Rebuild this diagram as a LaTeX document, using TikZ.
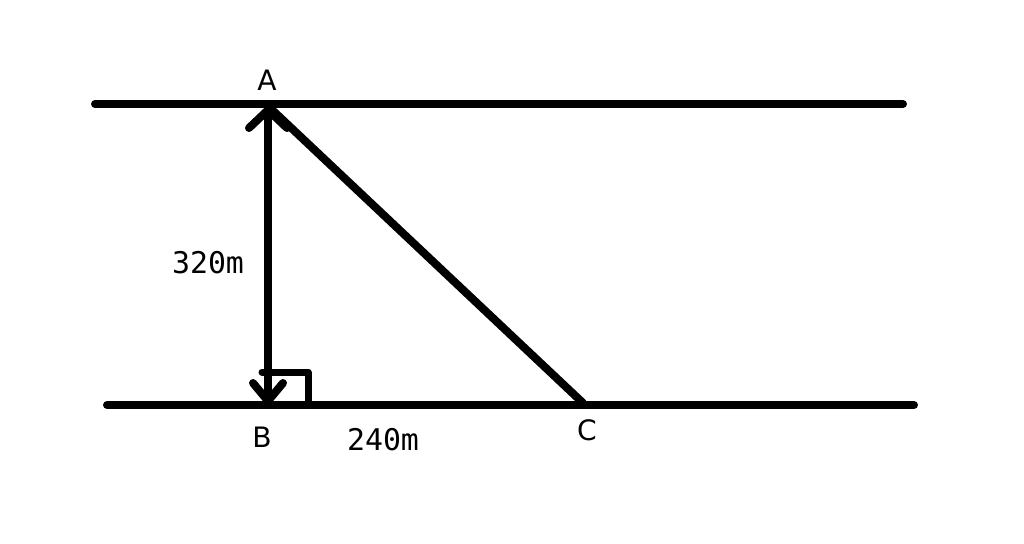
\documentclass[tikz,border=0pt]{standalone}
\usepackage{fontspec}
\setmainfont{DejaVu Sans}
\setmonofont{DejaVu Sans Mono}
\usetikzlibrary{arrows.meta}
\begin{document}
\begin{tikzpicture}[
		x=0.02cm, y=-0.02cm,
		every node/.style={inner sep=0pt},
		bank/.style={line width=1.6mm, line cap=round, line join=round},
		point label/.style={font=\fontsize{16}{19}\selectfont},
		dist label/.style={font=\ttfamily\fontsize{17}{20}\selectfont}
	]
  \useasboundingbox (0,0) rectangle (1024,544);
  \coordinate (top_l) at (95,104);
  \coordinate (top_r) at (903,104);
  \coordinate (bot_l) at (107,405);
  \coordinate (bot_r) at (914,405);
  \coordinate (A) at (268,106);
  \coordinate (B) at (268,405);
  \coordinate (C) at (583,403);
  \coordinate (sq_a) at (262,372);
  \coordinate (sq_b) at (308,372);
  \coordinate (sq_c) at (308,405);
  \node (A_label) [point label] at (267,80) {A};
  \node (B_label) [point label] at (262,437) {B};
  \node (C_label) [point label] at (587,430) {C};
  \node (AB_label) [dist label] at (208,263) {320m};
  \node (BC_label) [dist label] at (383,440) {240m};
  \draw [bank] (top_l) -- (top_r);
  \draw [bank] (bot_l) -- (bot_r);
  \draw [bank] (A) -- (C);
  \draw [bank, {Straight Barb[length=3.6mm, width=7.6mm, round]}-{Straight Barb[length=3.6mm, width=6mm, round]}] (A) -- (B);
  \draw [bank, line width=1.4mm] (sq_a) -- (sq_b) -- (sq_c);
\end{tikzpicture}
\end{document}
